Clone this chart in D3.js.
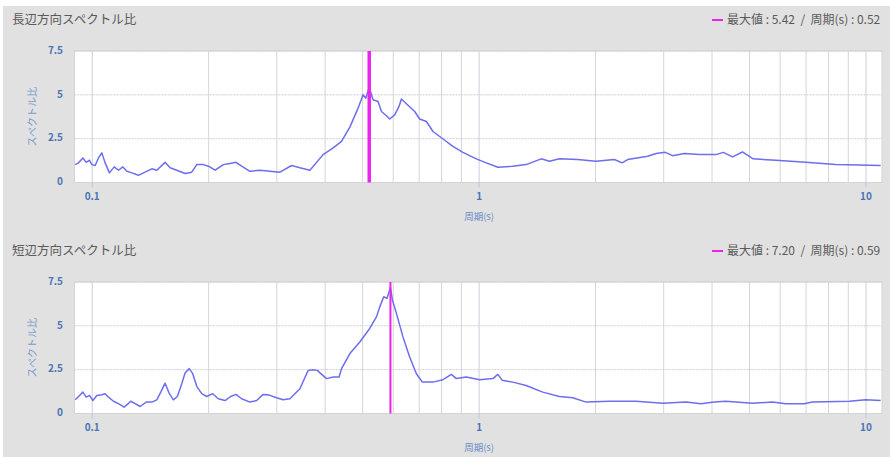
<!DOCTYPE html>
<html>
<head>
<meta charset="utf-8">
<script src="https://cdn.jsdelivr.net/npm/d3@7"></script>
<style>
    body { margin: 0; background: #fff; font-family: 'Noto Sans CJK JP', 'Noto Sans', sans-serif; }
</style>
</head>
<body>
<script>
// 長辺方向
const longPeriods = [0.0904, 0.0922, 0.0946, 0.0965, 0.0984, 0.0998, 0.1018, 0.1038, 0.1059, 0.1080,
    0.1108, 0.1140, 0.1169, 0.1200, 0.1229, 0.1266, 0.1317, 0.1370, 0.1426, 0.1469,
    0.1543, 0.1590, 0.1654, 0.1738, 0.1808, 0.1863, 0.1938, 0.1997, 0.2078, 0.2183,
    0.2271, 0.2353, 0.2434, 0.2557, 0.2714, 0.2880, 0.3057, 0.3277, 0.3442, 0.3653,
    0.3953, 0.4195, 0.4410, 0.4634, 0.4866, 0.5013, 0.5094, 0.5200, 0.5320, 0.5481,
    0.5593, 0.5761, 0.5875, 0.6052, 0.6209, 0.6298, 0.6488, 0.6816, 0.7022, 0.7308,
    0.7601, 0.8066, 0.8558, 0.9081, 0.9835, 1.0437, 1.118, 1.222, 1.323, 1.447,
    1.520, 1.613, 1.796, 2.006, 2.237, 2.342, 2.421, 2.727, 2.866, 3.029,
    3.163, 3.392, 3.707, 4.093, 4.275, 4.518, 4.795, 5.109, 5.848, 6.988,
    8.351, 10.91]
const longValues = [1.02, 1.12, 1.40, 1.15, 1.27, 1.02, 0.97, 1.40, 1.69, 1.12,
    0.55, 0.89, 0.70, 0.89, 0.64, 0.55, 0.41, 0.59, 0.78, 0.70,
    1.15, 0.84, 0.70, 0.51, 0.59, 1.02, 1.02, 0.93, 0.70, 1.02,
    1.08, 1.15, 0.93, 0.64, 0.70, 0.64, 0.59, 0.97, 0.84, 0.70,
    1.59, 1.97, 2.35, 3.16, 4.24, 5.00, 4.81, 5.42, 4.72, 4.62,
    4.05, 3.81, 3.62, 3.86, 4.34, 4.76, 4.49, 4.05, 3.62, 3.48,
    2.91, 2.48, 2.06, 1.72, 1.35, 1.12, 0.87, 0.93, 1.02, 1.35,
    1.21, 1.35, 1.31, 1.21, 1.31, 1.12, 1.31, 1.50, 1.65, 1.72,
    1.53, 1.65, 1.59, 1.59, 1.72, 1.46, 1.74, 1.35, 1.27, 1.15,
    1.02, 0.97]

// 短辺方向
const shortPeriods = [0.0904, 0.0922, 0.0946, 0.0965, 0.0984, 0.1004, 0.1028, 0.1059, 0.1080, 0.1102,
    0.1135, 0.1169, 0.1209, 0.1233, 0.1258, 0.1291, 0.1330, 0.1379, 0.1426, 0.1469,
    0.1504, 0.1543, 0.1583, 0.1621, 0.1660, 0.1704, 0.1738, 0.1782, 0.1819, 0.1863,
    0.1919, 0.1977, 0.2048, 0.2118, 0.2204, 0.2280, 0.2353, 0.2434, 0.2557, 0.2661,
    0.2768, 0.2868, 0.2996, 0.3116, 0.3244, 0.3442, 0.3616, 0.3725, 0.3815, 0.4034,
    0.4195, 0.4346, 0.4410, 0.4634, 0.4916, 0.5216, 0.5429, 0.5536, 0.5670, 0.5782,
    0.5900, 0.5970, 0.6114, 0.6356, 0.6615, 0.6885, 0.7135, 0.7601, 0.8066, 0.8477,
    0.8735, 0.9266, 1.0030, 1.0854, 1.118, 1.148, 1.222, 1.323, 1.461, 1.613,
    1.746, 1.891, 2.172, 2.545, 2.981, 3.426, 3.745, 4.052, 4.344, 5.088,
    5.731, 6.207, 6.918, 7.268, 9.07, 9.98, 10.91]
const shortValues = [0.78, 0.97, 1.22, 0.93, 1.03, 0.74, 1.03, 1.07, 1.13, 0.93,
    0.70, 0.56, 0.36, 0.52, 0.70, 0.56, 0.40, 0.65, 0.65, 0.78,
    1.22, 1.73, 1.13, 0.78, 0.97, 1.70, 2.31, 2.56, 2.27, 1.55,
    1.13, 0.97, 1.13, 0.84, 0.74, 0.97, 1.09, 0.84, 0.65, 0.74,
    1.09, 1.05, 0.90, 0.78, 0.84, 1.41, 2.46, 2.50, 2.46, 1.99,
    2.08, 2.08, 2.56, 3.42, 4.08, 4.85, 5.51, 6.08, 6.66, 6.57,
    7.20, 6.47, 5.71, 4.37, 3.22, 2.27, 1.79, 1.79, 1.93, 2.23,
    1.99, 2.08, 1.93, 1.99, 2.23, 1.89, 1.79, 1.60, 1.22, 0.97,
    0.90, 0.65, 0.70, 0.70, 0.59, 0.65, 0.56, 0.65, 0.70, 0.59,
    0.65, 0.56, 0.56, 0.65, 0.70, 0.78, 0.74]

const xTicks = [0.1, 1, 10]
const gridPeriods = [0.1, 0.2, 0.3, 0.4, 0.5, 0.6, 0.7, 0.8, 0.9,
    1, 2, 3, 4, 5, 6, 7, 8, 9, 10]
const yTicks = [0, 2.5, 5, 7.5]
const yTickLabels = ['0', '2.5', '5', '7.5']

const panels = [
    { title: '長辺方向スペクトル比', periods: longPeriods, values: longValues, maxVal: '5.42', maxPeriod: 0.52, top: 51, peakWidth: 3.5 },
    { title: '短辺方向スペクトル比', periods: shortPeriods, values: shortValues, maxVal: '7.20', maxPeriod: 0.59, top: 282, peakWidth: 2 }
]

const chart = () => {
    let width = 890,
        height = 457
    let svg = d3.select('body').append('svg')
        .attr('width', width)
        .attr('height', height)

    svg.append('rect')
        .attr('x', 3).attr('y', 6)
        .attr('width', width - 3).attr('height', height - 6)
        .attr('fill', '#e1e1e1')

    let x = d3.scaleLog().domain([0.09, 11]).range([74.5, 882])

    panels.forEach((p, i) => {
        let plotH = 131.5
        let y = d3.scaleLinear().domain([0, 7.5]).range([p.top + plotH, p.top])
        let g = svg.append('g')

        g.append('text')
            .attr('x', 12).attr('y', p.top - 30)
            .attr('dominant-baseline', 'middle')
            .attr('fill', '#5a5a5a')
            .style('font-size', '12.5px')
            .text(p.title)

        // legend
        g.append('line')
            .attr('x1', 712).attr('x2', 723)
            .attr('y1', p.top - 31).attr('y2', p.top - 31)
            .attr('stroke', '#ee22ee').attr('stroke-width', 2)
        g.append('text')
            .attr('x', 727).attr('y', p.top - 30)
            .attr('dominant-baseline', 'middle')
            .attr('fill', '#5a5a5a')
            .style('font-size', '12px')
            .style('white-space', 'pre')
            .text(`最大値 : ${p.maxVal}  /  周期(s) : ${p.maxPeriod.toFixed(2)}`)

        g.append('rect')
            .attr('x', x.range()[0]).attr('y', p.top)
            .attr('width', x.range()[1] - x.range()[0]).attr('height', plotH)
            .attr('fill', '#fff')
            .attr('stroke', '#d4d4d4')

        g.selectAll('.vgrid')
            .data(gridPeriods).enter()
            .append('line')
            .attr('x1', d => x(d)).attr('x2', d => x(d))
            .attr('y1', p.top).attr('y2', p.top + plotH)
            .attr('stroke', d => xTicks.includes(d) ? '#c8d0dc' : '#d6d6d6')
            .attr('stroke-width', 1)

        g.selectAll('.hgrid')
            .data(yTicks.slice(1)).enter()
            .append('line')
            .attr('x1', x.range()[0]).attr('x2', x.range()[1])
            .attr('y1', d => y(d)).attr('y2', d => y(d))
            .attr('stroke', '#cfcfcf')
            .attr('stroke-dasharray', '2,1')

        // x ticks
        g.selectAll('.xtick')
            .data(xTicks).enter()
            .append('line')
            .attr('x1', d => x(d)).attr('x2', d => x(d))
            .attr('y1', p.top + plotH).attr('y2', p.top + plotH + 5)
            .attr('stroke', '#b8c6da')
        g.selectAll('.xlabel')
            .data(xTicks).enter()
            .append('text')
            .attr('x', d => x(d)).attr('y', p.top + plotH + 15)
            .attr('text-anchor', 'middle')
            .attr('dominant-baseline', 'middle')
            .attr('fill', '#4a74b4')
            .style('font-size', '10px').style('font-weight', 'bold')
            .text(d => d3.format('')(d))

        g.selectAll('.ylabel')
            .data(yTicks).enter()
            .append('text')
            .attr('x', 63).attr('y', d => y(d))
            .attr('text-anchor', 'end')
            .attr('dominant-baseline', 'middle')
            .attr('fill', '#4a74b4')
            .style('font-size', '10px').style('font-weight', 'bold')
            .text((d, j) => yTickLabels[j])

        g.append('text')
            .attr('transform', `translate(33,${p.top + plotH / 2}) rotate(-90)`)
            .attr('text-anchor', 'middle')
            .attr('dominant-baseline', 'middle')
            .attr('fill', '#7b9bcf')
            .style('font-size', '10px')
            .text('スペクトル比')

        g.append('text')
            .attr('x', x(1)).attr('y', p.top + plotH + 35)
            .attr('text-anchor', 'middle')
            .attr('dominant-baseline', 'middle')
            .attr('fill', '#6b8ec6')
            .style('font-size', '9.5px')
            .text('周期(s)')

        let clipId = 'clip' + i
        svg.append('clipPath').attr('id', clipId)
            .append('rect')
            .attr('x', x.range()[0]).attr('y', p.top - 2)
            .attr('width', x.range()[1] - x.range()[0]).attr('height', plotH + 2)

        let pts = p.periods.map((d, j) => [d, p.values[j]])
        let line = d3.line()
            .x(d => x(d[0]))
            .y(d => y(d[1]))

        g.append('path')
            .datum(pts)
            .attr('clip-path', `url(#${clipId})`)
            .attr('d', line)
            .attr('fill', 'none')
            .attr('stroke', '#6d6df0')
            .attr('stroke-width', 1.5)
            .attr('stroke-linejoin', 'round')

        g.append('line')
            .attr('x1', x(p.maxPeriod)).attr('x2', x(p.maxPeriod))
            .attr('y1', p.top).attr('y2', p.top + plotH)
            .attr('stroke', '#ee22ee')
            .attr('stroke-width', p.peakWidth)
    })
}

chart()
</script>
</body>
</html>
